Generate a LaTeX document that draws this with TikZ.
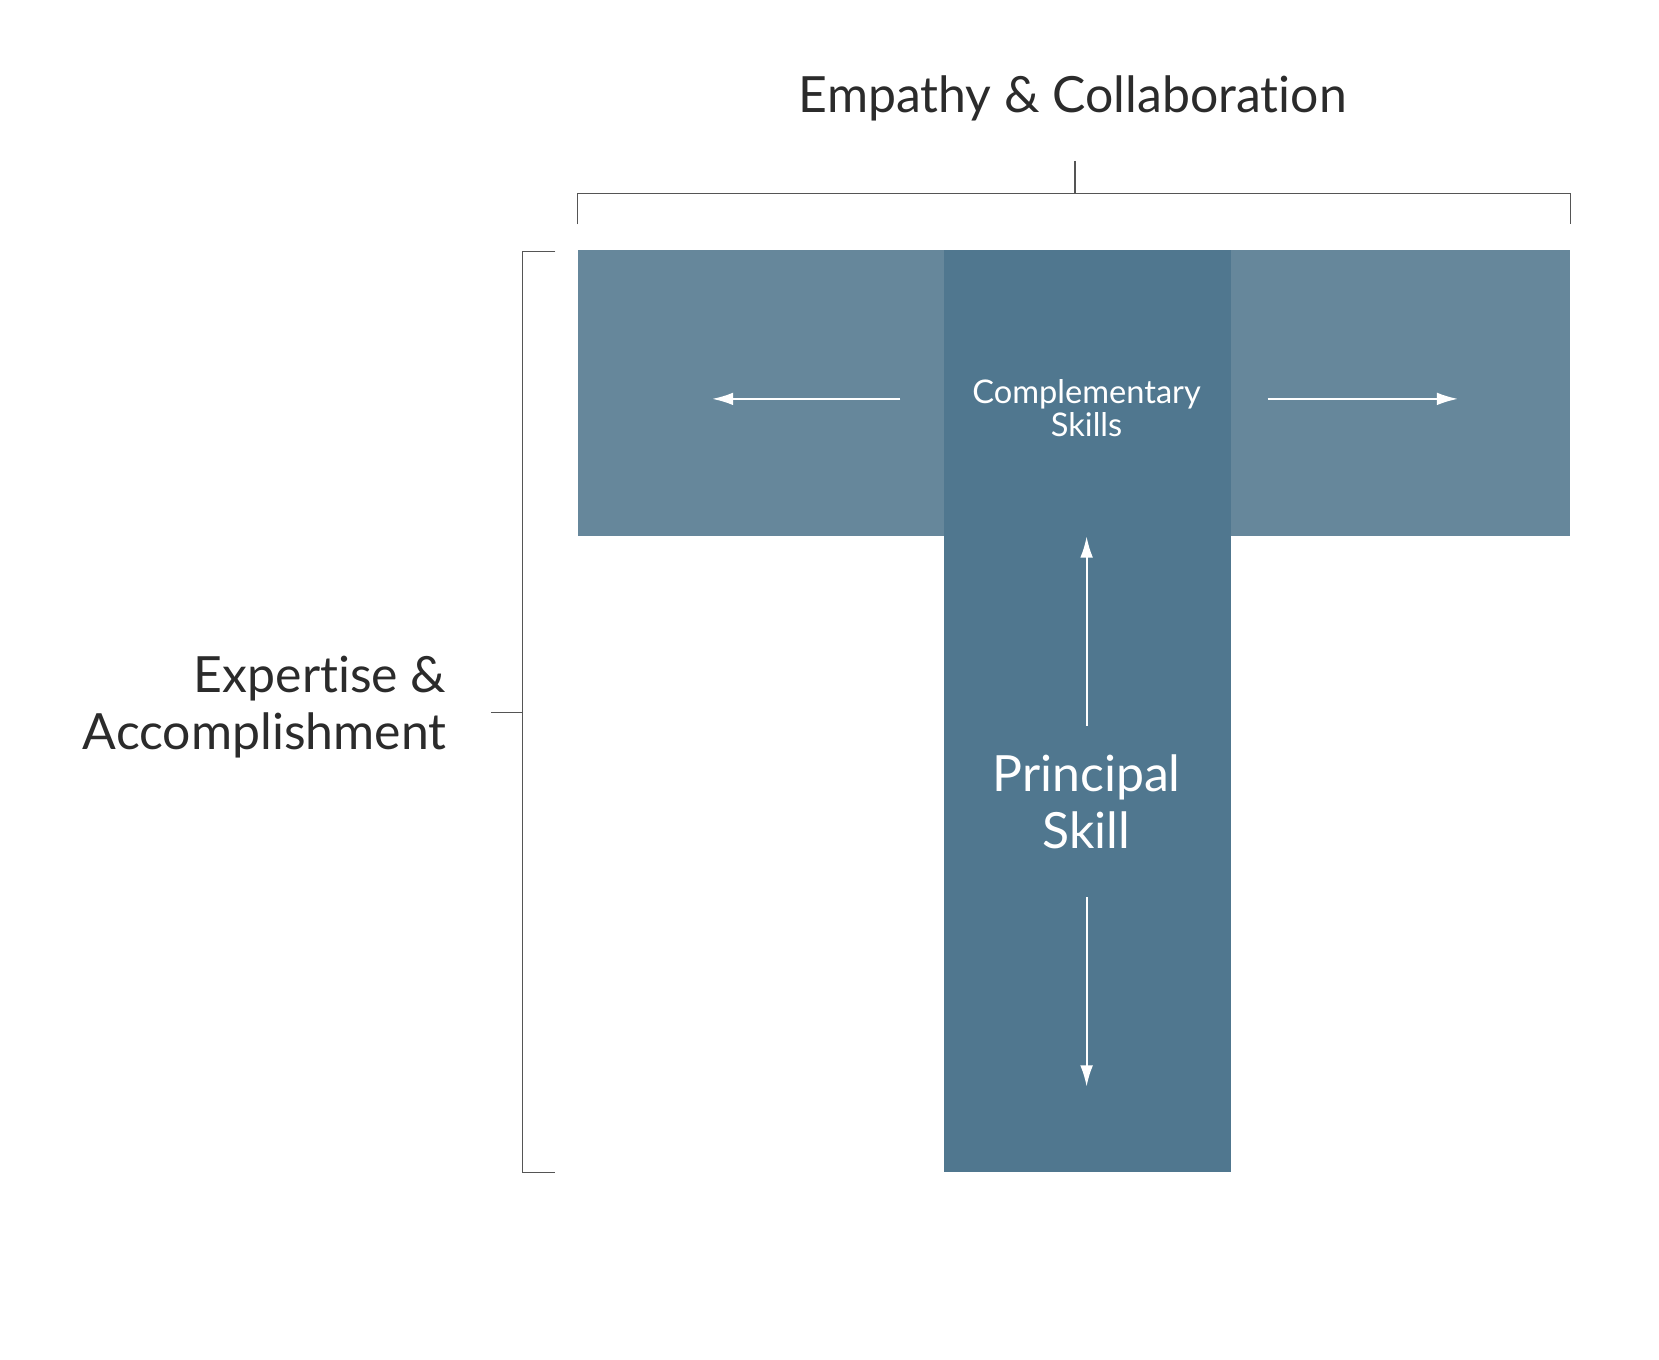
\documentclass[tikz,border=0pt]{standalone}
\usepackage{fontspec}
\setmainfont{Lato}[Ligatures=CommonOff]
\usetikzlibrary{arrows.meta,positioning}
\definecolor{wing}{HTML}{66879B}
\definecolor{stem}{HTML}{50778F}
\definecolor{ink}{HTML}{2B2B2B}
\definecolor{rule}{HTML}{555555}
\begin{document}
\begin{tikzpicture}[x=0.5pt,y=-0.5pt,>={Latex[length=10pt,width=6pt]},
  bracket/.style={rule,line width=0.5pt},
  push/.style={->,white,line width=0.9pt},
  big/.style={font=\fontsize{23.6}{27}\selectfont},
  small/.style={font=\fontsize{15.4}{15.5}\selectfont}]
\useasboundingbox(0,0)rectangle(1568,1285);
% the T
\fill[wing](546,236)rectangle(1484,507);
\fill[stem](892,236)rectangle(1163,1108);
% brackets
\draw[bracket](546,212)--(546,183)--(1484,183)--(1484,212)
(1016,152)--(1016,183);
\draw[bracket](525,238)--(494,238)--(494,1108)--(525,1108)
(464,673)--(494,673);
% labels
\node[ink,big](top)at(1014,93){Empathy \& Collaboration};
\node[ink,big,align=right,anchor=east](side)at(429,668){Expertise \&\\Accomplishment};
\node[white,small,align=center](comp)at(1027,386){Complementary\\Skills};
\node[white,big,align=center](prin)at(1027,758){Principal\\Skill};
% arrows
\coordinate(l0)at(851,377);\coordinate(l1)at(673,377);
\coordinate(r0)at(1198,377);\coordinate(r1)at(1378,377);
\coordinate(u0)at(1027,686);\coordinate(u1)at(1027,507);
\coordinate(d0)at(1027,848);\coordinate(d1)at(1027,1027);
\draw[push](l0)--(l1);
\draw[push](r0)--(r1);
\draw[push](u0)--(u1);
\draw[push](d0)--(d1);
\end{tikzpicture}
\end{document}
